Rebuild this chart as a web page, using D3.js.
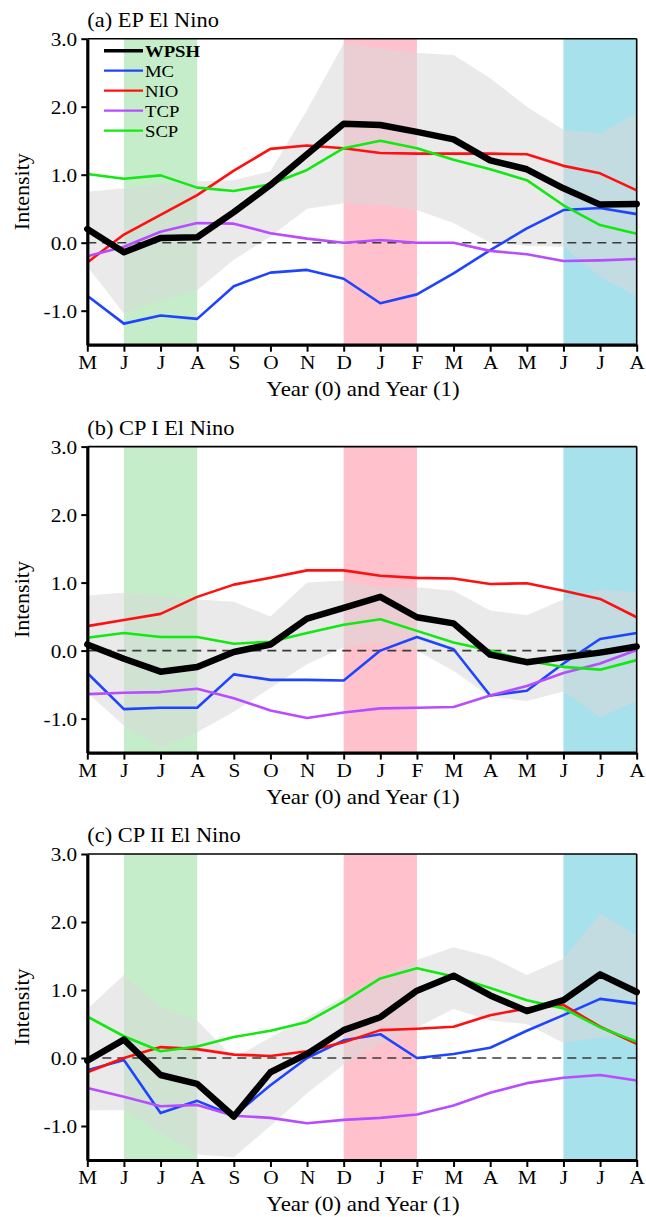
<!DOCTYPE html>
<html>
<head>
<meta charset="utf-8">
<script src="https://cdn.jsdelivr.net/npm/d3@7"></script>
<style>
  html, body { margin: 0; padding: 0; background: #fff; }
  svg { display: block; font-family: "Liberation Serif", "Times New Roman", serif; }
</style>
</head>
<body>
<svg id="chart" width="646" height="1217"></svg>
<script>
// month axis, Year (0) May -> Year (1) Aug
const months = ["M","J","J","A","S","O","N","D","J","F","M","A","M","J","J","A"];
const yTicks = [3, 2, 1, 0, -1];
const panelTitles = ["(a) EP El Nino", "(b) CP I El Nino", "(c) CP II El Nino"];
const seriesNames = ["WPSH", "MC", "NIO", "TCP", "SCP"];

// shaded seasons (month index start, end)
const seasonStart = [1, 7, 13];
const seasonEnd = [3, 9, 15];

// (a) EP El Nino
const wpshA = [0.2, -0.14, 0.07, 0.08, 0.45, 0.85, 1.3, 1.75, 1.73, 1.63, 1.52, 1.21, 1.08, 0.8, 0.56, 0.57];
const mcA   = [-0.78, -1.19, -1.07, -1.12, -0.64, -0.44, -0.4, -0.53, -0.89, -0.76, -0.45, -0.11, 0.21, 0.48, 0.51, 0.42];
const nioA  = [-0.29, 0.12, 0.41, 0.7, 1.06, 1.38, 1.43, 1.39, 1.32, 1.31, 1.31, 1.31, 1.3, 1.13, 1.02, 0.77];
const tcpA  = [-0.2, -0.06, 0.16, 0.29, 0.28, 0.14, 0.06, 0.0, 0.04, 0.0, 0.0, -0.12, -0.17, -0.27, -0.26, -0.24];
const scpA  = [1.01, 0.94, 0.99, 0.81, 0.76, 0.86, 1.07, 1.39, 1.5, 1.39, 1.22, 1.08, 0.92, 0.55, 0.26, 0.13];
const hiA   = [0.75, 0.8, 0.85, 0.9, 0.92, 1.05, 1.95, 2.93, 2.86, 2.79, 2.76, 2.42, 2.0, 1.66, 1.61, 1.9];
const loA   = [-0.35, -1.04, -0.85, -0.7, -0.25, 0.09, 0.5, 0.58, 0.55, 0.48, 0.29, 0.0, -0.05, -0.06, -0.5, -0.79];

// (b) CP I El Nino
const wpshB = [0.09, -0.12, -0.31, -0.24, -0.02, 0.09, 0.47, 0.63, 0.79, 0.49, 0.4, -0.06, -0.17, -0.1, -0.03, 0.06];
const mcB   = [-0.33, -0.86, -0.84, -0.84, -0.35, -0.43, -0.43, -0.44, 0.0, 0.2, 0.02, -0.66, -0.59, -0.19, 0.17, 0.26];
const nioB  = [0.36, 0.45, 0.54, 0.79, 0.97, 1.07, 1.18, 1.18, 1.1, 1.07, 1.06, 0.98, 0.99, 0.88, 0.76, 0.49];
const tcpB  = [-0.64, -0.62, -0.61, -0.56, -0.7, -0.88, -0.99, -0.91, -0.85, -0.84, -0.83, -0.66, -0.52, -0.33, -0.19, 0.01];
const scpB  = [0.19, 0.26, 0.2, 0.2, 0.1, 0.13, 0.26, 0.38, 0.46, 0.29, 0.12, 0.0, -0.15, -0.24, -0.28, -0.14];
const hiB   = [0.81, 0.85, 0.8, 0.75, 0.72, 0.5, 1.0, 1.03, 0.92, 0.93, 0.88, 0.59, 0.52, 0.75, 0.9, 0.86];
const loB   = [-0.62, -1.1, -1.42, -1.2, -0.9, -0.55, -0.2, 0.05, 0.12, 0.0, -0.3, -0.68, -0.74, -0.6, -0.98, -0.74];

// (c) CP II El Nino
const wpshC = [-0.04, 0.27, -0.25, -0.38, -0.86, -0.21, 0.06, 0.41, 0.6, 0.99, 1.21, 0.92, 0.69, 0.85, 1.23, 0.97];
const mcC   = [-0.18, -0.03, -0.81, -0.63, -0.85, -0.4, 0.0, 0.26, 0.35, 0.0, 0.06, 0.15, 0.4, 0.63, 0.87, 0.8];
const nioC  = [-0.21, 0.0, 0.16, 0.13, 0.05, 0.03, 0.1, 0.23, 0.41, 0.43, 0.46, 0.63, 0.73, 0.78, 0.46, 0.21];
const tcpC  = [-0.44, -0.57, -0.71, -0.69, -0.85, -0.88, -0.96, -0.91, -0.88, -0.83, -0.7, -0.51, -0.37, -0.29, -0.25, -0.33];
const scpC  = [0.61, 0.32, 0.1, 0.17, 0.31, 0.4, 0.53, 0.83, 1.17, 1.32, 1.2, 1.03, 0.85, 0.73, 0.45, 0.24];
const hiC   = [0.72, 1.22, 0.75, 0.55, 0.0, 0.3, 0.6, 0.9, 1.2, 1.44, 1.63, 1.49, 1.22, 1.46, 2.12, 1.8];
const loC   = [-0.77, -0.77, -1.1, -1.42, -1.46, -1.0, -0.52, -0.1, 0.2, 0.45, 0.72, 0.55, 0.5, 0.22, 0.3, 0.3];

const panels = [
  { title: panelTitles[0], series: [wpshA, mcA, nioA, tcpA, scpA], hi: hiA, lo: loA, legend: true },
  { title: panelTitles[1], series: [wpshB, mcB, nioB, tcpB, scpB], hi: hiB, lo: loB },
  { title: panelTitles[2], series: [wpshC, mcC, nioC, tcpC, scpC], hi: hiC, lo: loC }
];

const colors = ["#000000", "#1f44ff", "#ff1010", "#b84cff", "#12e812"];
const widths = [6.5, 2.6, 2.6, 2.6, 2.6];
const seasonColors = ["#c6edc9", "#ffc2cc", "#a7e1eb"];
const drawOrder = [1, 2, 3, 4, 0];

const svg = d3.select("#chart");
const left = 87.3, right = 636.7, plotH = 306;
const tops = [38.7, 446.6, 854];
const sx = "scale(1.12,1)";

const x = d3.scaleLinear().domain([0, months.length - 1]).range([left, right]);

panels.forEach((p, k) => {
  const top = tops[k], bottom = top + plotH;
  const y = d3.scaleLinear().domain([-1.5, 3]).range([bottom, top]);
  const g = svg.append("g");

  // seasons
  seasonStart.forEach((s, i) => {
    g.append("rect")
      .attr("x", x(s)).attr("width", x(seasonEnd[i]) - x(s))
      .attr("y", top).attr("height", plotH)
      .attr("fill", seasonColors[i]);
  });

  // spread band
  const area = d3.area().x((d, i) => x(i)).y0((d, i) => y(p.lo[i])).y1(d => y(d));
  g.append("path").datum(p.hi)
    .attr("d", area)
    .attr("fill", "#d8d8d8").attr("opacity", 0.55);

  // zero line
  g.append("line")
    .attr("x1", left).attr("x2", right)
    .attr("y1", y(0)).attr("y2", y(0))
    .attr("stroke", "#3a3a3a").attr("stroke-width", 1.6)
    .attr("stroke-dasharray", "9,6");

  const line = d3.line().x((d, i) => x(i)).y(d => y(d));
  drawOrder.forEach(s => {
    g.append("path").datum(p.series[s])
      .attr("d", line)
      .attr("fill", "none")
      .attr("stroke", colors[s])
      .attr("stroke-width", widths[s])
      .attr("stroke-linejoin", "round")
      .attr("stroke-linecap", s === 0 ? "round" : "butt");
  });

  // frame: thin top & right
  g.append("line").attr("x1", left).attr("x2", right).attr("y1", top).attr("y2", top)
    .attr("stroke", "#000").attr("stroke-width", 1.6);
  g.append("line").attr("x1", right).attr("x2", right).attr("y1", top).attr("y2", bottom)
    .attr("stroke", "#000").attr("stroke-width", 1.6);

  // axes
  const ax = g.append("g")
    .attr("transform", `translate(0,${bottom})`)
    .call(d3.axisBottom(x).tickValues(d3.range(months.length))
      .tickFormat(i => months[i]).tickSize(7).tickSizeOuter(0).tickPadding(4));
  const ay = g.append("g")
    .attr("transform", `translate(${left},0)`)
    .call(d3.axisLeft(y).tickValues(yTicks)
      .tickFormat(v => v.toFixed(1)).tickSize(6).tickSizeOuter(0).tickPadding(3));

  [ax, ay].forEach(a => {
    a.select(".domain").attr("stroke-width", 3.2);
    a.selectAll(".tick line").attr("stroke-width", 2);
    a.selectAll(".tick text")
      .attr("font-size", 19).attr("fill", "#000")
      .attr("font-family", "Liberation Serif, serif");
  });
  ax.selectAll(".tick text").attr("transform", sx);
  ay.selectAll(".tick text").attr("dy", "0.34em").attr("transform", sx);

  // titles
  g.append("text")
    .attr("transform", `translate(${left},${top - 12}) ${sx}`)
    .attr("font-size", 20).text(p.title);
  g.append("text")
    .attr("transform", `translate(${(left + right) / 2 + 1},${bottom + 51}) ${sx}`)
    .attr("text-anchor", "middle").attr("font-size", 20.5)
    .text("Year (0) and Year (1)");
  g.append("text")
    .attr("transform", `translate(29,${(top + bottom) / 2}) rotate(-90) scale(1.1,1)`)
    .attr("text-anchor", "middle").attr("font-size", 20)
    .text("Intensity");

  if (p.legend) {
    seriesNames.forEach((name, i) => {
      const ly = top + 12 + i * 20;
      g.append("line").attr("x1", 104).attr("x2", 143).attr("y1", ly).attr("y2", ly)
        .attr("stroke", colors[i]).attr("stroke-width", i === 0 ? 3.5 : 2.2);
      g.append("text")
        .attr("transform", `translate(145,${ly + 6}) scale(1.1,1)`)
        .attr("font-size", 17)
        .attr("font-weight", i === 0 ? "bold" : "normal")
        .text(name);
    });
  }
});
</script>
</body>
</html>
